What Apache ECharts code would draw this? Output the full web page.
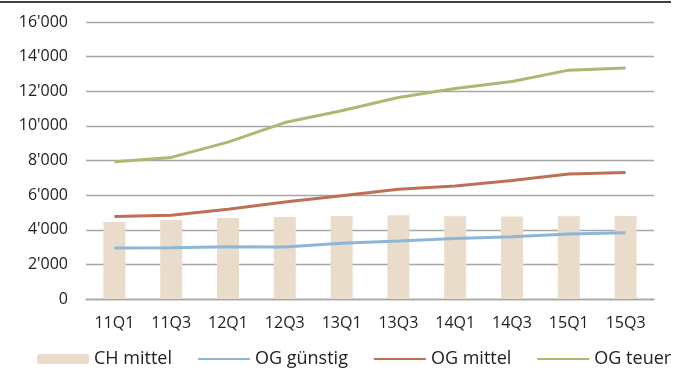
<!DOCTYPE html>
<html>
<head>
<meta charset="utf-8">
<script src="https://cdn.jsdelivr.net/npm/echarts@6/dist/echarts.min.js"></script>
<style>
  html, body { margin: 0; padding: 0; background: #fff; }
  #chart { width: 683px; height: 371px; }
</style>
</head>
<body>
<div id="chart"></div>
<script>
// Quarterly price levels
const categories = ['11Q1', '11Q3', '12Q1', '12Q3', '13Q1', '13Q3', '14Q1', '14Q3', '15Q1', '15Q3'];
const chMittel   = [4450, 4560, 4680, 4740, 4800, 4840, 4780, 4760, 4780, 4800];
const ogGuenstig = [2950, 2965, 3020, 3010, 3220, 3350, 3490, 3600, 3760, 3820];
const ogMittel   = [4770, 4840, 5190, 5600, 5970, 6340, 6530, 6840, 7220, 7300];
const ogTeuer    = [7930, 8180, 9060, 10190, 10870, 11640, 12160, 12560, 13220, 13350];
const yTicks     = { min: 0, max: 16000, step: 2000 };

const FONT = 'Open Sans';
const TEXT = '#222';

function fmtThousands(v) {
  return String(v).replace(/\B(?=(\d{3})+(?!\d))/g, "'");
}

const chart = echarts.init(document.getElementById('chart'), null, { renderer: 'canvas' });

// legend entries for lines show only the stroke, no marker
const lineLegend = name => ({ name: name, itemStyle: { opacity: 0 } });

chart.setOption({
  animation: false,
  backgroundColor: '#ffffff',
  textStyle: { fontFamily: FONT },
  graphic: [{
    type: 'line',
    shape: { x1: 0, y1: 2, x2: 671, y2: 2 },
    style: { stroke: '#000000', lineWidth: 1.5 }
  }],
  grid: { left: 86, right: 29, top: 22, bottom: 72, containLabel: false },
  legend: {
    left: 32,
    top: 345,
    itemWidth: 52,
    itemHeight: 10,
    itemGap: 25,
    textStyle: { fontFamily: FONT, fontSize: 18, color: TEXT },
    data: [
      { name: 'CH mittel' },
      lineLegend('OG günstig'),
      lineLegend('OG mittel'),
      lineLegend('OG teuer')
    ]
  },
  xAxis: {
    type: 'category',
    data: categories,
    boundaryGap: true,
    axisLine: { lineStyle: { color: '#a6a6a6', width: 1.3 } },
    axisTick: { show: false },
    axisLabel: { fontFamily: FONT, fontSize: 16, color: TEXT, margin: 16 }
  },
  yAxis: {
    type: 'value',
    min: yTicks.min,
    max: yTicks.max,
    interval: yTicks.step,
    axisLine: { show: false },
    axisTick: { show: false },
    splitLine: { lineStyle: { color: '#a6a6a6', width: 1.3 } },
    axisLabel: { fontFamily: FONT, fontSize: 16, color: TEXT, margin: 18, formatter: fmtThousands }
  },
  series: [
    {
      name: 'CH mittel', type: 'bar', data: chMittel, barWidth: 22,
      itemStyle: { color: '#EADCCA' }, z: 1
    },
    {
      name: 'OG günstig', type: 'line', data: ogGuenstig, symbol: 'none',
      lineStyle: { color: '#8EB6D8', width: 3 }, itemStyle: { color: '#8EB6D8' }, z: 3
    },
    {
      name: 'OG mittel', type: 'line', data: ogMittel, symbol: 'none',
      lineStyle: { color: '#BF6F55', width: 3 }, itemStyle: { color: '#BF6F55' }, z: 3
    },
    {
      name: 'OG teuer', type: 'line', data: ogTeuer, symbol: 'none',
      lineStyle: { color: '#B3B573', width: 3 }, itemStyle: { color: '#B3B573' }, z: 3
    }
  ]
});
</script>
</body>
</html>
